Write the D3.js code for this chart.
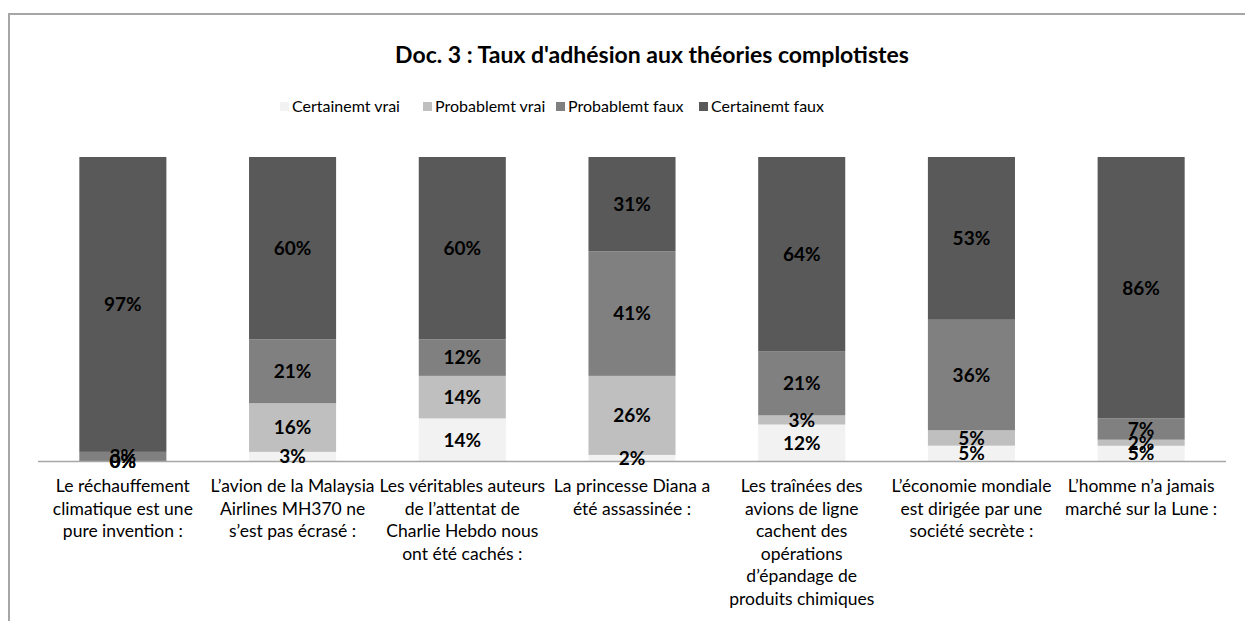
<!DOCTYPE html>
<html>
<head>
<meta charset="utf-8">
<title>Doc. 3 - Taux d'adhésion</title>
<script src="https://d3js.org/d3.v7.min.js"></script>
<style>
  body { margin: 0; background: #fff; }
  svg { font-family: Lato, "Open Sans", sans-serif; }
</style>
</head>
<body>
<div id="my_dataviz"></div>
<script>

// categories (each label already split into lines as in the original)
var categories = [
  ["Le réchauffement", "climatique est une", "pure invention :"],
  ["L’avion de la Malaysia", "Airlines MH370 ne", "s’est pas écrasé :"],
  ["Les véritables auteurs", "de l’attentat de", "Charlie Hebdo nous", "ont été cachés :"],
  ["La princesse Diana a", "été assassinée :"],
  ["Les traînées des", "avions de ligne", "cachent des", "opérations", "d’épandage de", "produits chimiques"],
  ["L’économie mondiale", "est dirigée par une", "société secrète :"],
  ["L’homme n’a jamais", "marché sur la Lune :"]
];

var seriesNames = ["Certainemt vrai", "Probablemt vrai", "Probablemt faux", "Certainemt faux"];

// values in %
var certainementVrai = [0, 3, 14, 2, 12, 5, 5];
var probablementVrai = [0, 16, 14, 26, 3, 5, 2];
var probablementFaux = [3, 21, 12, 41, 21, 36, 7];
var certainementFaux = [97, 60, 60, 31, 64, 53, 86];

var colors = ["#f2f2f2", "#bfbfbf", "#808080", "#595959"];

var W = 1245, H = 621;

var svg = d3.select("#my_dataviz")
  .append("svg")
    .attr("width", W)
    .attr("height", H);

// chart frame (runs off the right / bottom edge like the original)
svg.append("rect")
  .attr("x", 9).attr("y", 14)
  .attr("width", W).attr("height", H)
  .attr("fill", "none")
  .attr("stroke", "#a6a6a6")
  .attr("stroke-width", 2);

// title
svg.append("text")
  .attr("x", 652).attr("y", 63)
  .attr("text-anchor", "middle")
  .style("font-weight", "bold")
  .style("font-size", "23px")
  .text("Doc. 3 : Taux d'adhésion aux théories complotistes");

// build table for stack
var series = [certainementVrai, probablementVrai, probablementFaux, certainementFaux];
var data = categories.map(function(c, i) {
  var row = { idx: i };
  seriesNames.forEach(function(s, j) { row[s] = series[j][i]; });
  return row;
});

var stackedData = d3.stack()
  .keys(seriesNames)
  .offset(d3.stackOffsetExpand)
  (data);

var x = d3.scaleBand()
  .domain(d3.range(categories.length))
  .range([38, 1226])
  .paddingInner(0.487)
  .paddingOuter(0.2435);

var y = d3.scaleLinear()
  .domain([0, 1])
  .range([461, 157]);

var color = d3.scaleOrdinal().domain(seriesNames).range(colors);

// bars
var layers = svg.selectAll("g.layer")
  .data(stackedData)
  .enter()
  .append("g")
    .attr("class", "layer")
    .attr("fill", function(d) { return color(d.key); });

layers.selectAll("rect")
  .data(function(d) { return d; })
  .enter()
  .append("rect")
    .attr("x", function(d) { return x(d.data.idx); })
    .attr("width", x.bandwidth())
    .attr("y", function(d) { return y(d[1]); })
    .attr("height", function(d) { return y(d[0]) - y(d[1]); });

// x axis line
svg.append("line")
  .attr("x1", 38).attr("x2", 1226)
  .attr("y1", 461.5).attr("y2", 461.5)
  .attr("stroke", "#a6a6a6")
  .attr("stroke-width", 1.5);

// data labels
stackedData.forEach(function(layer) {
  svg.append("g")
    .selectAll("text")
    .data(layer)
    .enter()
    .append("text")
      .attr("x", function(d) { return x(d.data.idx) + x.bandwidth() / 2; })
      .attr("y", function(d) { return (y(d[0]) + y(d[1])) / 2; })
      .attr("dy", "0.36em")
      .attr("text-anchor", "middle")
      .style("font-weight", "bold")
      .style("font-size", "19px")
      .style("fill", "#000")
      .text(function(d) { return d.data[layer.key] + "%"; });
});

// category labels
var cat = svg.append("g")
  .selectAll("text")
  .data(categories)
  .enter()
  .append("text")
    .attr("text-anchor", "middle")
    .style("font-size", "17.5px")
    .style("fill", "#000")
    .attr("transform", function(d, i) {
      return "translate(" + (x(i) + x.bandwidth() / 2) + ",492)";
    });

cat.selectAll("tspan")
  .data(function(d) { return d; })
  .enter()
  .append("tspan")
    .attr("x", 0)
    .attr("y", function(d, i) { return i * 22.6; })
    .text(function(d) { return d; });

// legend
var legendX = [280, 423, 556, 699];
var legend = svg.append("g")
  .selectAll("g")
  .data(seriesNames)
  .enter()
  .append("g")
    .attr("transform", function(d, i) { return "translate(" + legendX[i] + ",102)"; });

legend.append("rect")
  .attr("width", 9).attr("height", 9)
  .attr("y", 0)
  .attr("fill", function(d) { return color(d); });

legend.append("text")
  .attr("x", 12).attr("y", 10)
  .style("font-size", "16px")
  .style("fill", "#000")
  .text(function(d) { return d; });

</script>
</body>
</html>
